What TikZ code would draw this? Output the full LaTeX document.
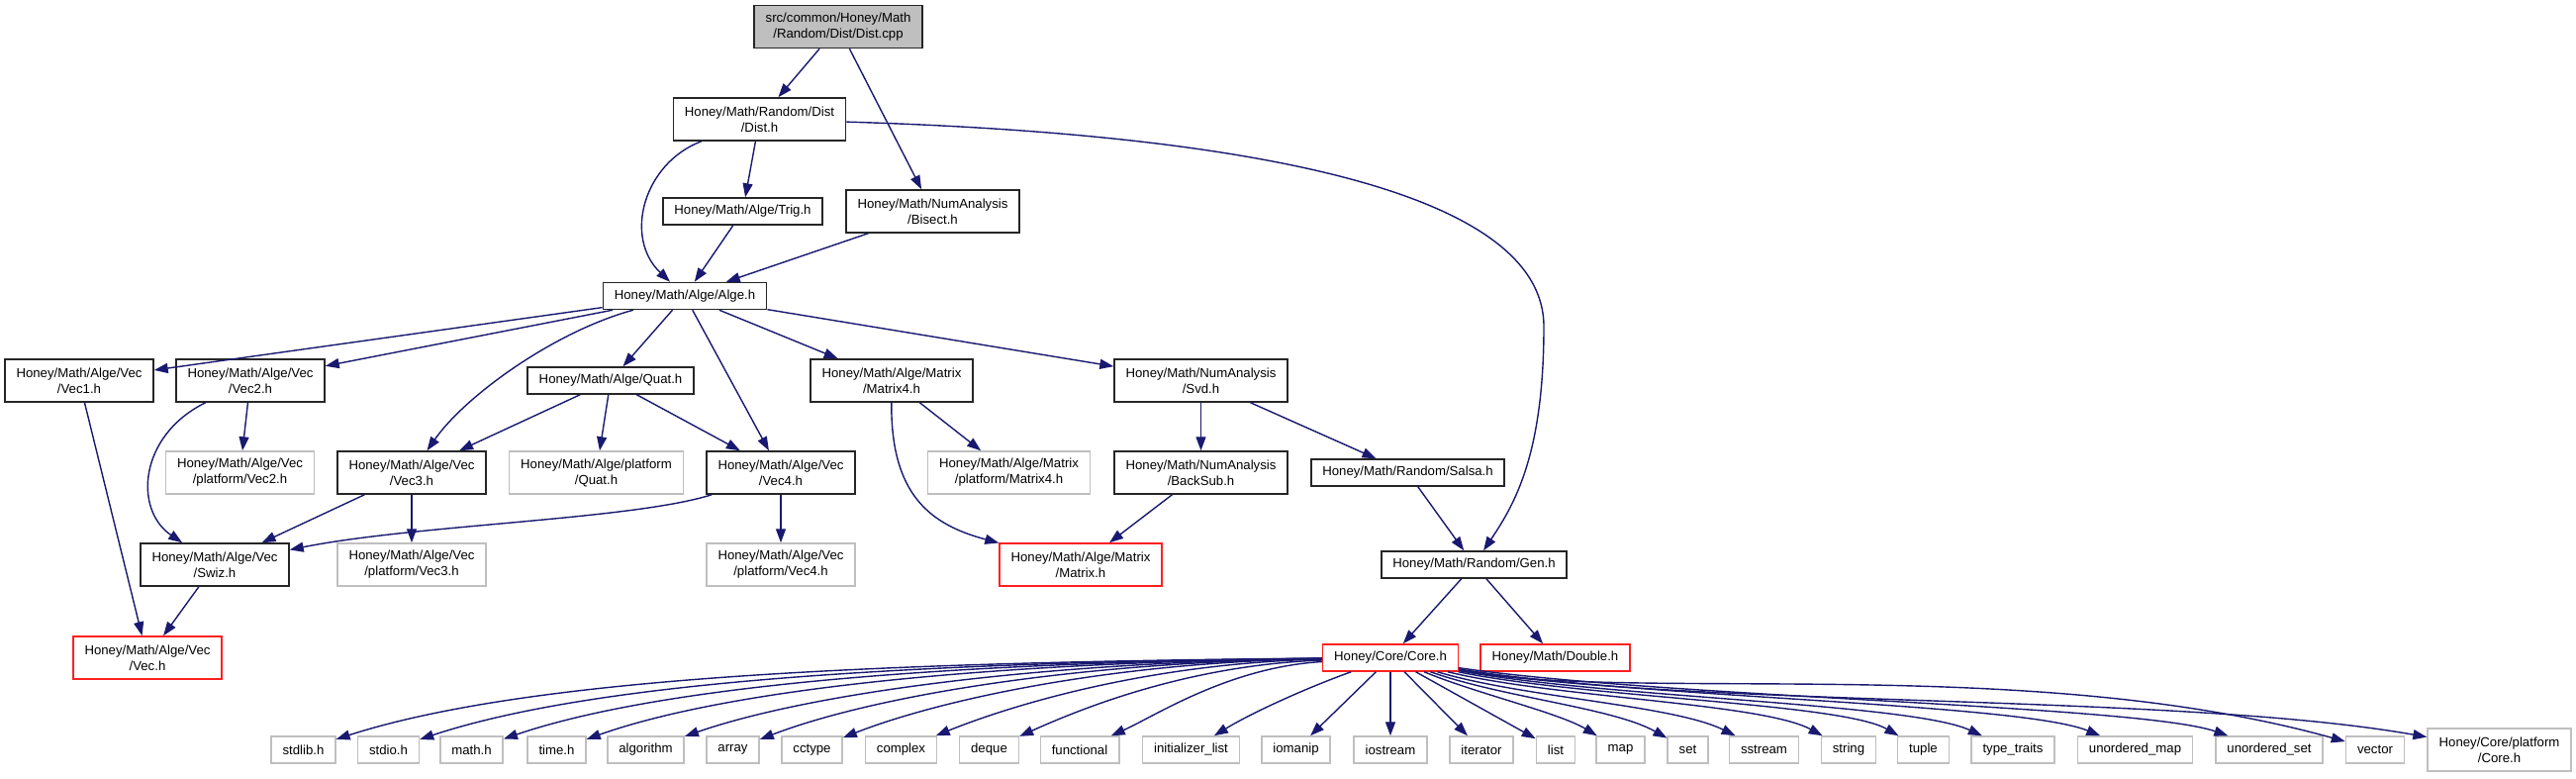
\documentclass[tikz,border=0pt]{standalone}
\usepackage{fontspec}
\setmainfont{Liberation Sans}
\usepackage{tikz}
\usetikzlibrary{arrows.meta}
\definecolor{edgeblue}{HTML}{191970}
\definecolor{rootgray}{HTML}{BFBFBF}
\definecolor{extgray}{HTML}{BFBFBF}
\definecolor{truncred}{HTML}{FF2020}

\begin{document}
\begin{tikzpicture}[x=1pt,y=-1pt,
  incbox/.style={draw=black!85,line width=1.5pt,fill=white,align=center,inner xsep=11.5pt,inner ysep=2pt,minimum height=27pt,font=\fontsize{13.2}{16}\selectfont},
  tall/.style={minimum height=43pt},
  rootbox/.style={incbox,fill=rootgray},
  extbox/.style={incbox,draw=extgray},
  redbox/.style={incbox,draw=truncred},
  dep/.style={draw=edgeblue,line width=1.4pt},
  >={Triangle[length=14pt,width=10pt]}]
  \path[use as bounding box,fill=white] (0,0) rectangle (2603,787);

  % top of the graph
  \node[rootbox,tall] (cpp) at (847,27) {src/common/Honey/Math\\/Random/Dist/Dist.cpp};
  \node[incbox,tall] (dist) at (767.5,120.5) {Honey/Math/Random/Dist\\/Dist.h};
  \node[incbox] (trig) at (750.5,213.5) {Honey/Math/Alge/Trig.h};
  \node[incbox,tall] (bisect) at (942.5,213.5) {Honey/Math/NumAnalysis\\/Bisect.h};
  \node[incbox] (alge) at (692,299) {Honey/Math/Alge/Alge.h};

  % Alge.h and below
  \node[incbox,tall] (vecone) at (80,384.5) {Honey/Math/Alge/Vec\\/Vec1.h};
  \node[incbox,tall] (vectwo) at (253,384.5) {Honey/Math/Alge/Vec\\/Vec2.h};
  \node[incbox] (quat) at (617,384.5) {Honey/Math/Alge/Quat.h};
  \node[incbox,tall] (matfour) at (901,384.5) {Honey/Math/Alge/Matrix\\/Matrix4.h};
  \node[incbox,tall] (svd) at (1213.5,384.5) {Honey/Math/NumAnalysis\\/Svd.h};
  \node[extbox,tall] (platvectwo) at (242.5,477.5) {Honey/Math/Alge/Vec\\/platform/Vec2.h};
  \node[incbox,tall] (vecthree) at (416,477.5) {Honey/Math/Alge/Vec\\/Vec3.h};
  \node[extbox,tall] (platquat) at (602.5,477.5) {Honey/Math/Alge/platform\\/Quat.h};
  \node[incbox,tall] (vecfour) at (789,477.5) {Honey/Math/Alge/Vec\\/Vec4.h};
  \node[extbox,tall] (platmatfour) at (1019.5,477.5) {Honey/Math/Alge/Matrix\\/platform/Matrix4.h};
  \node[incbox,tall] (backsub) at (1213.5,477.5) {Honey/Math/NumAnalysis\\/BackSub.h};
  \node[incbox] (salsa) at (1422.5,477.5) {Honey/Math/Random/Salsa.h};
  \node[incbox,tall] (swiz) at (217,570.5) {Honey/Math/Alge/Vec\\/Swiz.h};
  \node[extbox,tall] (platvecthree) at (416,570.5) {Honey/Math/Alge/Vec\\/platform/Vec3.h};
  \node[extbox,tall] (platvecfour) at (789,570.5) {Honey/Math/Alge/Vec\\/platform/Vec4.h};
  \node[redbox,tall] (matrix) at (1092,570.5) {Honey/Math/Alge/Matrix\\/Matrix.h};
  \node[incbox] (gen) at (1489.5,570.5) {Honey/Math/Random/Gen.h};
  \node[redbox,tall] (vec) at (149,664.5) {Honey/Math/Alge/Vec\\/Vec.h};
  \node[redbox] (core) at (1405,664.5) {Honey/Core/Core.h};
  \node[redbox] (double) at (1571.5,664.5) {Honey/Math/Double.h};

  % system headers
  \node[extbox] (stdlib) at (306.5,757.5) {stdlib.h};
  \node[extbox] (stdio) at (392.5,757.5) {stdio.h};
  \node[extbox] (mathh) at (476.5,757.5) {math.h};
  \node[extbox] (timeh) at (562.5,757.5) {time.h};
  \node[extbox] (algorithm) at (652.5,757.5) {algorithm};
  \node[extbox] (array) at (740.5,757.5) {array};
  \node[extbox] (cctype) at (820.5,757.5) {cctype};
  \node[extbox] (complex) at (910.5,757.5) {complex};
  \node[extbox] (deque) at (999.5,757.5) {deque};
  \node[extbox] (functional) at (1091,757.5) {functional};
  \node[extbox] (initlist) at (1203.5,757.5) {initializer\_list};
  \node[extbox] (iomanip) at (1309.5,757.5) {iomanip};
  \node[extbox] (iostream) at (1405,757.5) {iostream};
  \node[extbox] (iterator) at (1497,757.5) {iterator};
  \node[extbox] (list) at (1572,757.5) {list};
  \node[extbox] (map) at (1637.5,757.5) {map};
  \node[extbox] (set) at (1705.5,757.5) {set};
  \node[extbox] (sstream) at (1782.5,757.5) {sstream};
  \node[extbox] (string) at (1868,757.5) {string};
  \node[extbox] (tuple) at (1943.5,757.5) {tuple};
  \node[extbox] (typetraits) at (2034,757.5) {type\_traits};
  \node[extbox] (unordmap) at (2157.5,757.5) {unordered\_map};
  \node[extbox] (unordset) at (2293,757.5) {unordered\_set};
  \node[extbox] (vector) at (2400,757.5) {vector};
  \node[extbox,tall] (platcore) at (2525.5,757.5) {Honey/Core/platform\\/Core.h};
  \coordinate (genbend) at (1560,330);

  \draw[->,dep] (cpp) -- (dist);
  \draw[->,dep] (cpp) -- (bisect);
  \draw[->,dep] (dist) .. controls (650,165) and (630,240) .. (alge);
  \draw[->,dep] (dist) -- (trig);
  \draw[->,dep] (dist) .. controls (1250,135) and (1560,190) .. (genbend) .. controls (1560,460) and (1530,510) .. (gen);
  \draw[->,dep] (trig) -- (alge);
  \draw[->,dep] (bisect) -- (alge);
  \draw[->,dep] (alge) -- (vecone);
  \draw[->,dep] (alge) -- (vectwo);
  \draw[->,dep] (alge) .. controls (560,335) and (470,400) .. (vecthree);
  \draw[->,dep] (alge) -- (quat);
  \draw[->,dep] (alge) -- (vecfour);
  \draw[->,dep] (alge) -- (matfour);
  \draw[->,dep] (alge) -- (svd);
  \draw[->,dep] (quat) -- (vecthree);
  \draw[->,dep] (quat) -- (platquat);
  \draw[->,dep] (quat) -- (vecfour);
  \draw[->,dep] (vecone) -- (vec);
  \draw[->,dep] (vectwo) -- (platvectwo);
  \draw[->,dep] (vectwo) .. controls (140,440) and (135,515) .. (swiz);
  \draw[->,dep] (vecthree) -- (swiz);
  \draw[->,dep] (vecthree) -- (platvecthree);
  \draw[->,dep] (vecfour) .. controls (640,525) and (420,530) .. (swiz);
  \draw[->,dep] (vecfour) -- (platvecfour);
  \draw[->,dep] (swiz) -- (vec);
  \draw[->,dep] (matfour) -- (platmatfour);
  \draw[->,dep] (matfour) .. controls (900,500) and (940,530) .. (matrix);
  \draw[->,dep] (svd) -- (backsub);
  \draw[->,dep] (svd) -- (salsa);
  \draw[->,dep] (backsub) -- (matrix);
  \draw[->,dep] (salsa) -- (gen);
  \draw[->,dep] (gen) -- (core);
  \draw[->,dep] (gen) -- (double);

  % Core.h fan-out
  \draw[->,dep] (core) .. controls (886,669) and (535,684) .. (stdlib);
  \draw[->,dep] (core) .. controls (923,669) and (602,688) .. (stdio);
  \draw[->,dep] (core) .. controls (961,669) and (669,692) .. (mathh);
  \draw[->,dep] (core) .. controls (999,669) and (736,696) .. (timeh);
  \draw[->,dep] (core) .. controls (1044,669) and (816,701) .. (algorithm);
  \draw[->,dep] (core) .. controls (1078,669) and (877,705) .. (array);
  \draw[->,dep] (core) .. controls (1116,669) and (944,709) .. (cctype);
  \draw[->,dep] (core) .. controls (1157,670) and (1018,714) .. (complex);
  \draw[->,dep] (core) .. controls (1197,672) and (1088,718) .. (deque);
  \draw[->,dep] (core) .. controls (1242,674) and (1168,723) .. (functional);
  \draw[->,dep] (core) .. controls (1320,695) and (1265,720) .. (initlist);
  \draw[->,dep] (core) -- (iomanip);
  \draw[->,dep] (core) -- (iostream);
  \draw[->,dep] (core) -- (iterator);
  \draw[->,dep] (core) -- (list);
  \draw[->,dep] (core) .. controls (1490,700) and (1575,720) .. (map);
  \draw[->,dep] (core) .. controls (1520,705) and (1630,715) .. (set);
  \draw[->,dep] (core) .. controls (1540,705) and (1690,712) .. (sstream);
  \draw[->,dep] (core) .. controls (1570,705) and (1780,710) .. (string);
  \draw[->,dep] (core) .. controls (1600,705) and (1860,710) .. (tuple);
  \draw[->,dep] (core) .. controls (1620,705) and (1930,710) .. (typetraits);
  \draw[->,dep] (core) .. controls (1650,705) and (2040,710) .. (unordmap);
  \draw[->,dep] (core) .. controls (1680,705) and (2160,712) .. (unordset);
  \draw[->,dep] (core) .. controls (1650,710) and (2050,660) .. (vector);
  \draw[->,dep] (core) .. controls (1700,715) and (2200,700) .. (platcore);
\end{tikzpicture}
\end{document}
